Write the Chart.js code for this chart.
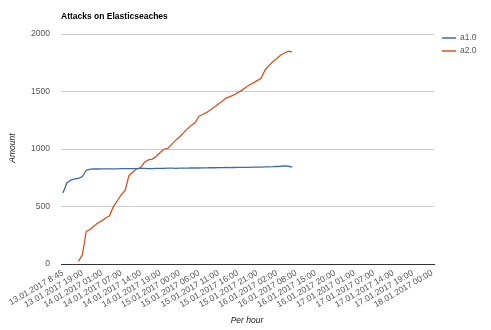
<!DOCTYPE html>
<html>
<head>
<meta charset="utf-8">
<script src="https://cdn.jsdelivr.net/npm/chart.js@4"></script>
<style>
html,body{margin:0;padding:0;background:#fff;}
#wrap{width:491px;height:330px;}
</style>
</head>
<body>
<div id="wrap"><canvas id="c" width="491" height="330"></canvas></div>
<script>
const tickLabels = ["13.01.2017 8:45","13.01.2017 19:00","14.01.2017 01:00","14.01.2017 07:00","14.01.2017 14:00","14.01.2017 19:00","15.01.2017 00:00","15.01.2017 06:00","15.01.2017 11:00","15.01.2017 16:00","15.01.2017 21:00","16.01.2017 02:00","16.01.2017 08:00","16.01.2017 15:00","16.01.2017 20:00","17.01.2017 01:00","17.01.2017 07:00","17.01.2017 14:00","17.01.2017 19:00","18.01.2017 00:00"];
const labelEvery = 5;
const categoryCount = 96;
const seriesNames = ["a1.0","a2.0"];
const a10 = [617,705,730,740,745,760,815,825,826,826,827,827,828,828,828,829,829,830,830,830,831,831,829,830,831,832,832,833,833,832,833,834,834,835,835,835,836,836,837,837,838,838,839,838,839,840,840,841,841,842,843,843,844,845,846,848,850,853,850,843];
const a20 = [null,null,null,null,23,80,283,300,330,357,375,400,420,501,550,600,640,770,800,828,838,885,905,912,935,970,998,1005,1040,1075,1105,1140,1175,1205,1228,1285,1300,1318,1342,1365,1392,1415,1443,1455,1470,1490,1510,1535,1557,1575,1595,1615,1685,1725,1758,1785,1815,1835,1850,1845];
const yTicks = [0,500,1000,1500,2000];
const colors = ["#3a6bb0","#d4521f"];

const categories = Array.from({length: categoryCount}, (_, i) => i % labelEvery === 0 ? (tickLabels[i / labelEvery] || '') : '');
const FONT = "'Liberation Sans', Arial, sans-serif";

const extras = {
  id: 'extras',
  afterDraw(chart) {
    const ctx = chart.ctx;
    ctx.save();
    ctx.fillStyle = '#000';
    ctx.font = "bold 8.5px " + FONT;
    ctx.textAlign = 'left'; ctx.textBaseline = 'middle';
    ctx.fillText('Attacks on Elasticseaches', 61, 17);
    ctx.fillStyle = '#222';
    ctx.font = "italic 8.5px " + FONT;
    ctx.textAlign = 'center';
    ctx.fillText('Per hour', 247, 321);
    ctx.save();
    ctx.translate(13, 148);
    ctx.rotate(-Math.PI / 2);
    ctx.fillText('Amount', 0, 0);
    ctx.restore();
    // legend
    ctx.font = "8.5px " + FONT;
    ctx.textAlign = 'left';
    seriesNames.forEach((n, i) => {
      const y = 38 + i * 13;
      ctx.strokeStyle = colors[i]; ctx.lineWidth = 1.5;
      ctx.beginPath(); ctx.moveTo(442, y); ctx.lineTo(456, y); ctx.stroke();
      ctx.fillStyle = '#555';
      ctx.fillText(n, 460, y);
    });
    ctx.restore();
  }
};

new Chart(document.getElementById('c'), {
  type: 'line',
  data: {
    labels: categories,
    datasets: [
      {label: seriesNames[0], data: a10, borderColor: colors[0], borderWidth: 1.3, pointRadius: 0, tension: 0, fill: false},
      {label: seriesNames[1], data: a20, borderColor: colors[1], borderWidth: 1.3, pointRadius: 0, tension: 0, fill: false}
    ]
  },
  options: {
    responsive: false,
    animation: false,
    layout: {padding: {top: 34, right: 57, left: 0, bottom: 0}},
    plugins: {legend: {display: false}, tooltip: {enabled: false}, title: {display: false}},
    scales: {
      x: {
        type: 'category',
        offset: true,
        grid: {display: false, drawTicks: false},
        border: {display: true, color: '#333', width: 1},
        afterFit(s) { s.height = 66; },
        ticks: {
          autoSkip: false,
          minRotation: 30, maxRotation: 30,
          padding: 4,
          color: '#555',
          font: {family: FONT, size: 8.5},
          callback(v, i) { return categories[i]; }
        }
      },
      y: {
        min: 0, max: 2000,
        afterFit(s) { s.width = 61; },
        afterBuildTicks(s) { s.ticks = yTicks.map(v => ({value: v})); },
        grid: {color: ctx => ctx.tick && ctx.tick.value === 0 ? '#333' : '#cccccc', drawTicks: false, lineWidth: 1},
        border: {display: false},
        ticks: {padding: 11, color: '#555', font: {family: FONT, size: 8.5}, callback: v => String(v)}
      }
    }
  },
  plugins: [extras]
});
</script>
</body>
</html>
